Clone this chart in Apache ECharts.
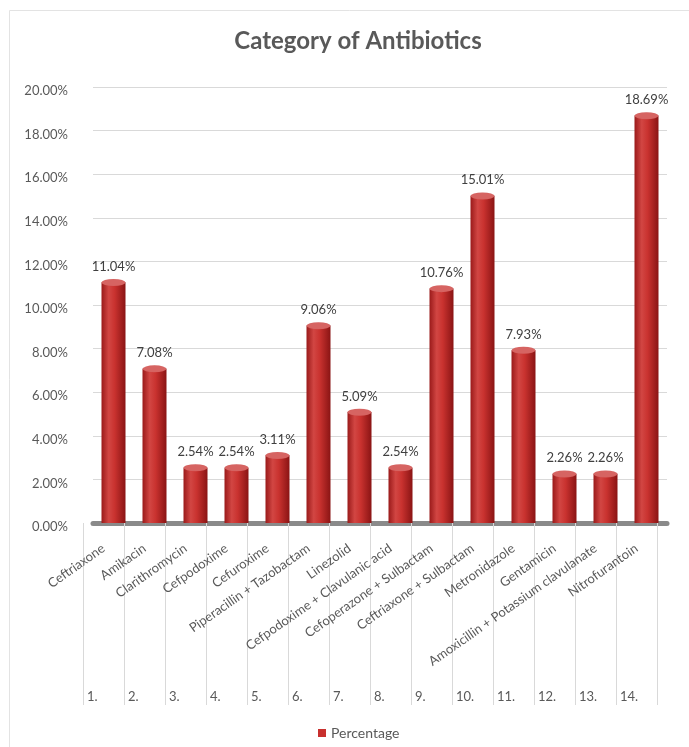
<!DOCTYPE html>
<html>
<head>
<meta charset="utf-8">
<script src="https://cdn.jsdelivr.net/npm/echarts@6/dist/echarts.min.js"></script>
<style>
  html, body { margin: 0; padding: 0; background: #fff; }
  #chart { width: 689px; height: 747px; }
</style>
</head>
<body>
<div id="chart"></div>
<script>
let categories = [
    'Ceftriaxone', 'Amikacin', 'Clarithromycin', 'Cefpodoxime', 'Cefuroxime',
    'Piperacillin + Tazobactam', 'Linezolid', 'Cefpodoxime + Clavulanic acid',
    'Cefoperazone + Sulbactam', 'Ceftriaxone + Sulbactam', 'Metronidazole',
    'Gentamicin', 'Amoxicillin + Potassium clavulanate', 'Nitrofurantoin'
];
let rowNumbers = ['1.', '2.', '3.', '4.', '5.', '6.', '7.', '8.', '9.', '10.', '11.', '12.', '13.', '14.'];
let percentage = [11.04, 7.08, 2.54, 2.54, 3.11, 9.06, 5.09, 2.54, 10.76, 15.01, 7.93, 2.26, 2.26, 18.69];

let font = 'Lato, "Open Sans", sans-serif';
let grey = '#595959';

// cylinder-ish shading for the bars
let barColor = new echarts.graphic.LinearGradient(0, 0, 1, 0, [
    { offset: 0, color: '#9a1a1a' },
    { offset: 0.3, color: '#d24643' },
    { offset: 0.55, color: '#c9322f' },
    { offset: 1, color: '#8a1414' }
]);

let option = {
    animation: false,
    textStyle: { fontFamily: font },
    title: {
        text: 'Category of Antibiotics',
        left: 353,
        textAlign: 'center',
        top: 24,
        textStyle: { fontSize: 24, fontWeight: 'bold', color: grey, fontFamily: font }
    },
    legend: {
        data: [{ name: 'Percentage', itemStyle: { color: '#c8302e' } }],
        left: 313,
        top: 721,
        icon: 'rect',
        itemWidth: 8,
        itemHeight: 8,
        itemGap: 4,
        textStyle: { fontSize: 14, color: grey, fontFamily: font }
    },
    graphic: [{
        type: 'rect',
        shape: { x: 9.5, y: 10.5, width: 720, height: 800 },
        style: { fill: 'none', stroke: '#e3e3e3', lineWidth: 1 },
        silent: true
    }],
    grid: [
        // table / labels grid
        { left: 83, right: 32, top: 87, bottom: 224 },
        // bars grid (shifted a bit to the right like the 3D depth)
        { left: 93, right: 22, top: 87, bottom: 224 }
    ],
    xAxis: [
        {
            type: 'category',
            gridIndex: 0,
            data: categories,
            axisLine: { show: false },
            axisTick: { show: true, length: 182, lineStyle: { color: '#d9d9d9' } },
            axisLabel: { interval: 0, rotate: 35, margin: 24, fontSize: 13, color: grey, fontFamily: font }
        },
        {
            type: 'category',
            gridIndex: 1,
            data: categories,
            axisLine: { show: true, lineStyle: { color: '#8a8a8a', width: 5 } },
            axisTick: { show: false },
            axisLabel: { show: false }
        },
        {
            type: 'category',
            gridIndex: 0,
            position: 'bottom',
            offset: 165,
            data: rowNumbers,
            axisLine: { show: false },
            axisTick: { show: false },
            axisLabel: {
                interval: 0,
                margin: 2,
                color: grey,
                fontSize: 13,
                fontFamily: font,
                formatter: v => '{n|' + v + '}',
                rich: { n: { width: 33, align: 'left', fontSize: 13, color: grey, fontFamily: font } }
            }
        }
    ],
    yAxis: [
        {
            type: 'value',
            gridIndex: 0,
            min: 0,
            max: 20,
            interval: 2,
            axisLine: { show: false },
            axisTick: { show: false },
            splitLine: { show: false },
            axisLabel: {
                margin: 15,
                fontSize: 13,
                color: grey,
                fontFamily: font,
                verticalAlign: 'top',
                lineHeight: 8,
                formatter: v => v.toFixed(2) + '%'
            }
        },
        {
            type: 'value',
            gridIndex: 1,
            min: 0,
            max: 20,
            interval: 2,
            axisLine: { show: false },
            axisTick: { show: false },
            axisLabel: { show: false },
            splitLine: { show: true, lineStyle: { color: '#d9d9d9' } }
        }
    ],
    series: [
        {
            name: 'Percentage',
            type: 'bar',
            xAxisIndex: 1,
            yAxisIndex: 1,
            barWidth: 24,
            data: percentage,
            itemStyle: { color: barColor },
            label: {
                show: true,
                position: 'top',
                distance: 9,
                fontSize: 13,
                color: '#404040',
                fontFamily: font,
                formatter: p => p.value.toFixed(2) + '%'
            },
            z: 3
        },
        {
            name: 'top',
            type: 'pictorialBar',
            xAxisIndex: 1,
            yAxisIndex: 1,
            symbol: 'circle',
            symbolSize: [24, 7],
            symbolPosition: 'end',
            symbolOffset: [0, '-50%'],
            data: percentage,
            itemStyle: { color: '#d66462', borderColor: '#a32222', borderWidth: 0.8 },
            z: 4
        }
    ]
};

let chart = echarts.init(document.getElementById('chart'));
chart.setOption(option);
</script>
</body>
</html>
